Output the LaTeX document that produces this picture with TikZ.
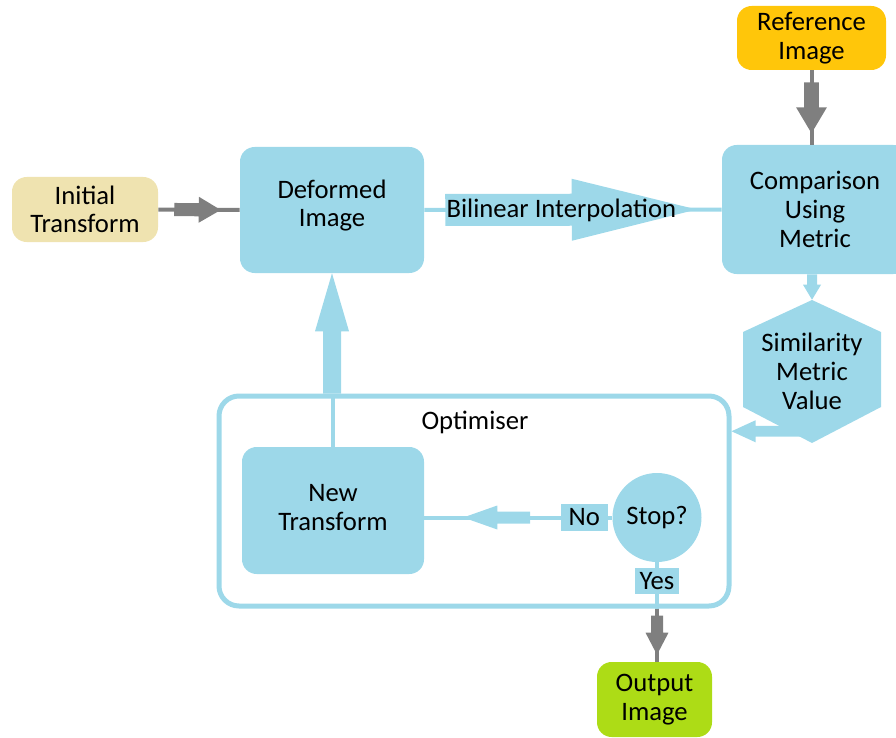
\documentclass[tikz,border=0pt]{standalone}
\usepackage{fontspec}
\setmainfont{Carlito}
\usetikzlibrary{calc}
\definecolor{cblue}{HTML}{9DD8E9}
\definecolor{cgold}{HTML}{EFE3B0}
\definecolor{corange}{HTML}{FFC60A}
\definecolor{clime}{HTML}{ADDC16}
\definecolor{cgray}{HTML}{7F7F7F}
\newcommand{\fatarrow}[6]{%
 \fill[#1] ($(#2)!#4!-90:(#3)$) -- ($(#3)!#6!(#2)!#4!90:(#2)$) -- ($(#3)!#6!(#2)!#5!90:(#2)$) -- (#3) -- ($(#3)!#6!(#2)!#5!-90:(#2)$) -- ($(#3)!#6!(#2)!#4!-90:(#2)$) -- ($(#2)!#4!90:(#3)$) -- cycle;}
\begin{document}
\begin{tikzpicture}[x=0.75pt,y=-0.75pt,
  every node/.style={font=\fontsize{20}{21.5}\selectfont, align=center, inner sep=0pt},
  sz/.style 2 args={minimum width={#1*0.75pt}, minimum height={#2*0.75pt}},
  box/.style={rounded corners=11pt},
  bline/.style={draw=cblue, line width=3pt},
  gline/.style={draw=cgray, line width=3pt},
  tag/.style={fill=cblue}]
\useasboundingbox (0,0) rectangle (896,738);

% boxes
\node[box, fill=cgold, sz={146}{65}] (init) at (85,209.5) {Initial\\Transform};
\node[box, fill=cblue, sz={184}{126}] (deformed) at (332,210) {Deformed\\Image\rule[-10pt]{0pt}{0pt}};
\node[box, fill=cblue, sz={186}{129}] (comp) at (815,209.5) {Comparison\\Using\\Metric};
\node[box, fill=corange, sz={149}{64}] (ref) at (811.5,38) {Reference\\Image};
\node[box, fill=clime, sz={115}{75}] (out) at (654.5,699.5) {Output\\Image};
\node[box, fill=cblue, sz={182}{127}] (newt) at (333,510.5) {New\\Transform\rule[-5pt]{0pt}{0pt}};
\node[draw=cblue, line width=3.75pt, rounded corners=15pt, sz={510}{210}] (opt) at (474,501) {};
\node (optlabel) at (475,422) {Optimiser};
\node[circle, fill=cblue, minimum size={89*0.75pt}] (stop) at (657,517.5) {Stop?};

% hexagon
\coordinate (hexc) at (812,371.5);
\fill[cblue] ($(hexc)+(0,-71.5)$) -- ($(hexc)+(69,-39.5)$) -- ($(hexc)+(69,35.5)$) -- ($(hexc)+(0,71.5)$) -- ($(hexc)+(-69,35.5)$) -- ($(hexc)+(-69,-39.5)$) -- cycle;
\node[sz={138}{143}] (hex) at (hexc) {Similarity\\Metric\\Value};

% init -> deformed
\draw[gline] (init) -- (deformed);
\coordinate (f1s) at ($(init.east)+(16,0)$);
\coordinate (f1e) at ($(deformed.west)+(-19,0)$);
\fatarrow{cgray}{f1s}{f1e}{4.9pt}{9.75pt}{16.5pt}

% deformed -> comparison
\draw[bline] (deformed) -- (comp);
\coordinate (f2s) at ($(deformed.east)+(21,0)$);
\coordinate (f2e) at ($(comp.west)+(-25,0)$);
\fatarrow{cblue}{f2s}{f2e}{12pt}{23.25pt}{93.75pt}
\node[anchor=west] (bil) at ($(f2s)+(1,0)$) {Bilinear Interpolation};

% reference -> comparison
\draw[gline] (ref.south) -- (ref.south |- comp.north);
\coordinate (f3s) at ($(ref.south)+(0,12)$);
\coordinate (f3e) at ($(ref.south)+(0,63)$);
\fatarrow{cgray}{f3s}{f3e}{5.6pt}{11.6pt}{19.5pt}

% comparison -> hexagon
\coordinate (f4s) at (hex.north |- comp.south);
\fatarrow{cblue}{f4s}{hex.north}{3.75pt}{6.75pt}{11.25pt}

% hexagon -> optimiser
\coordinate (f5s) at ($(hex.south)+(0,-12)$);
\coordinate (f5e) at (opt.east |- f5s);
\fatarrow{cblue}{f5s}{f5e}{4.1pt}{8.25pt}{18pt}

% new transform -> deformed
\draw[bline] (newt.north) -- (newt.north |- opt.north);
\coordinate (f6s) at (deformed.south |- opt.north);
\fatarrow{cblue}{f6s}{deformed.south}{6.75pt}{12.75pt}{43.5pt}

% stop -> new transform (No)
\draw[bline] (stop) -- (stop -| newt.east);
\coordinate (f7s) at ($(stop.west)+(-82,0)$);
\coordinate (f7e) at ($(stop.west -| newt.east)+(39,0)$);
\fatarrow{cblue}{f7s}{f7e}{4.5pt}{9pt}{25.5pt}
\node[tag, sz={47}{27}] (no) at ($(stop.west)+(-28,0)$) {No};

% stop -> output (Yes)
\coordinate (optb) at (stop.south |- opt.south);
\draw[bline] (stop.south) -- (optb);
\coordinate (outn) at (stop.south |- out.north);
\draw[gline] (optb) -- (outn);
\coordinate (f8s) at ($(optb)+(0,7)$);
\coordinate (f8e) at ($(outn)+(0,-7)$);
\fatarrow{cgray}{f8s}{f8e}{4.5pt}{8.6pt}{16.5pt}
\node[tag, sz={44}{26}] (yes) at ($(stop.south)+(0,19)$) {Yes};
\end{tikzpicture}
\end{document}
